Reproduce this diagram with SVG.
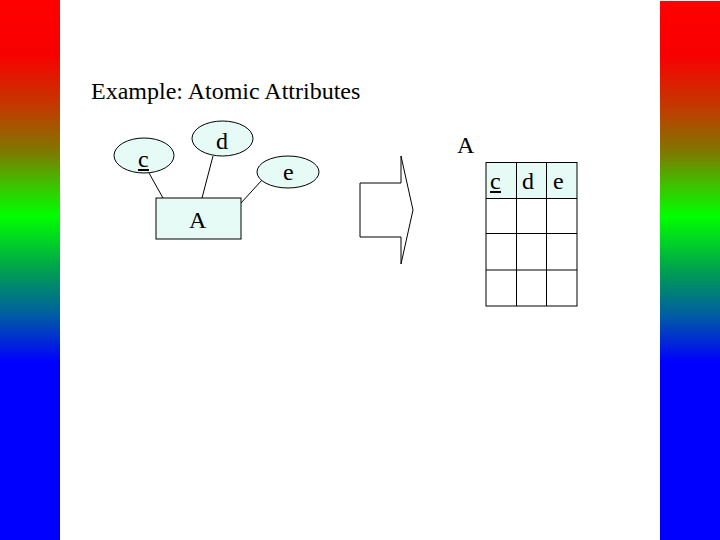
<svg xmlns="http://www.w3.org/2000/svg" width="720" height="540" viewBox="0 0 720 540">
<defs>
<linearGradient id="bar" x1="0" y1="0" x2="0" y2="1">
<stop offset="0" stop-color="#ff0000"/>
<stop offset="0.1" stop-color="#f80000"/>
<stop offset="0.2" stop-color="#c03c00"/>
<stop offset="0.28" stop-color="#7f7800"/>
<stop offset="0.34" stop-color="#40c000"/>
<stop offset="0.4" stop-color="#00ff00"/>
<stop offset="0.5" stop-color="#00a050"/>
<stop offset="0.58" stop-color="#0060a0"/>
<stop offset="0.67" stop-color="#0000ff"/>
<stop offset="1" stop-color="#0000ff"/>
</linearGradient>
</defs>
<style>
.t{font-family:"Liberation Serif","Times New Roman",serif;font-size:24px;fill:#000}
.shape{fill:#e6fbf6;stroke:#000;stroke-width:1}
.ln{stroke:#000;stroke-width:1;fill:none}
.ul{stroke:#000;stroke-width:2}
</style>
<rect x="0" y="0" width="720" height="540" fill="#fff"/>
<rect x="0" y="0" width="60" height="540" fill="url(#bar)"/>
<rect x="660" y="1" width="60" height="539" fill="url(#bar)"/>
<text class="t" x="91" y="99">Example: Atomic Attributes</text>
<g id="connectors">
<line class="ln" x1="149" y1="173" x2="163" y2="198"/>
<line class="ln" x1="213" y1="156" x2="202" y2="198"/>
<line class="ln" x1="262" y1="180" x2="241" y2="203"/>
</g>
<g id="attr-c">
<ellipse class="shape" cx="144" cy="155.5" rx="30" ry="17.5"/>
<text class="t" x="138" y="167">c</text>
<line class="ul" x1="138" y1="170" x2="149" y2="170"/>
</g>
<g id="attr-d">
<ellipse class="shape" cx="222.5" cy="138.5" rx="30.5" ry="17.5"/>
<text class="t" x="216" y="149">d</text>
</g>
<g id="attr-e">
<ellipse class="shape" cx="288" cy="172" rx="31" ry="16"/>
<text class="t" x="283" y="180">e</text>
</g>
<g id="entity-A">
<rect class="shape" x="156" y="198" width="85" height="41"/>
<text class="t" x="189" y="228">A</text>
</g>
<g id="arrow">
<polygon points="360,183 401,183 401,156 413,210 401,264 401,237 360,237" fill="#fff" stroke="#000" stroke-width="1"/>
</g>
<g id="table-A">
<text class="t" x="457" y="153">A</text>
<rect x="486" y="162.5" width="91" height="36" fill="#e6fbf6"/>
<rect x="486" y="162.5" width="91" height="143.5" fill="none" stroke="#000" stroke-width="1"/>
<line class="ln" x1="516.5" y1="162.5" x2="516.5" y2="306"/>
<line class="ln" x1="546.5" y1="162.5" x2="546.5" y2="306"/>
<line class="ln" x1="486" y1="198.5" x2="577" y2="198.5"/>
<line class="ln" x1="486" y1="233.5" x2="577" y2="233.5" stroke-width="2"/>
<line class="ln" x1="486" y1="270" x2="577" y2="270"/>
<text class="t" x="490" y="189">c</text>
<line class="ul" x1="490" y1="192" x2="501" y2="192"/>
<text class="t" x="522" y="189">d</text>
<text class="t" x="553" y="189">e</text>
</g>
</svg>
